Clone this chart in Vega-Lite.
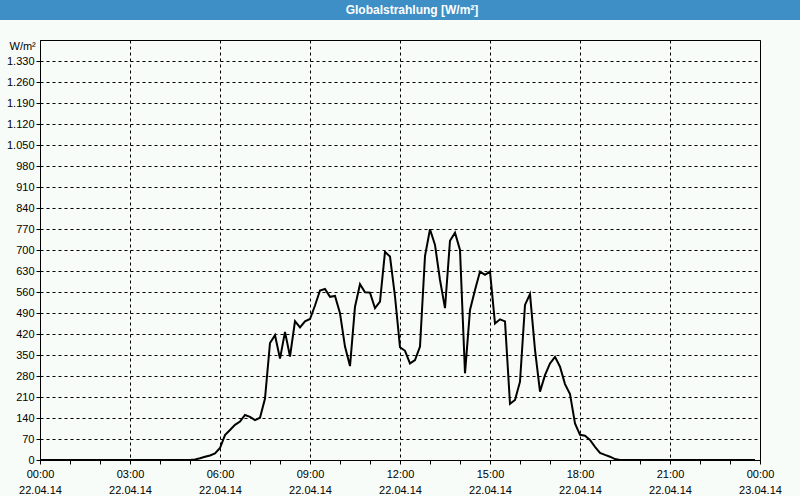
{
  "$schema": "https://vega.github.io/schema/vega-lite/v6.json",
  "background": "#f8fcf8",
  "padding": 0,
  "spacing": 19,
  "config": {"view": {"stroke": null}, "font": "Liberation Sans"},
  "datasets": {
    "radiation": [
      {"t": "2014-04-22T00:00Z", "v": 0}, {"t": "2014-04-22T00:10Z", "v": 0}, {"t": "2014-04-22T00:20Z", "v": 0}, {"t": "2014-04-22T00:30Z", "v": 0}, {"t": "2014-04-22T00:40Z", "v": 0}, {"t": "2014-04-22T00:50Z", "v": 0},
      {"t": "2014-04-22T01:00Z", "v": 0}, {"t": "2014-04-22T01:10Z", "v": 0}, {"t": "2014-04-22T01:20Z", "v": 0}, {"t": "2014-04-22T01:30Z", "v": 0}, {"t": "2014-04-22T01:40Z", "v": 0}, {"t": "2014-04-22T01:50Z", "v": 0},
      {"t": "2014-04-22T02:00Z", "v": 0}, {"t": "2014-04-22T02:10Z", "v": 0}, {"t": "2014-04-22T02:20Z", "v": 0}, {"t": "2014-04-22T02:30Z", "v": 0}, {"t": "2014-04-22T02:40Z", "v": 0}, {"t": "2014-04-22T02:50Z", "v": 0},
      {"t": "2014-04-22T03:00Z", "v": 0}, {"t": "2014-04-22T03:10Z", "v": 0}, {"t": "2014-04-22T03:20Z", "v": 0}, {"t": "2014-04-22T03:30Z", "v": 0}, {"t": "2014-04-22T03:40Z", "v": 0}, {"t": "2014-04-22T03:50Z", "v": 0},
      {"t": "2014-04-22T04:00Z", "v": 0}, {"t": "2014-04-22T04:10Z", "v": 0}, {"t": "2014-04-22T04:20Z", "v": 0}, {"t": "2014-04-22T04:30Z", "v": 0}, {"t": "2014-04-22T04:40Z", "v": 0}, {"t": "2014-04-22T04:50Z", "v": 0},
      {"t": "2014-04-22T05:00Z", "v": 0}, {"t": "2014-04-22T05:10Z", "v": 2}, {"t": "2014-04-22T05:20Z", "v": 6}, {"t": "2014-04-22T05:30Z", "v": 11}, {"t": "2014-04-22T05:40Z", "v": 15}, {"t": "2014-04-22T05:50Z", "v": 22},
      {"t": "2014-04-22T06:00Z", "v": 40}, {"t": "2014-04-22T06:10Z", "v": 83}, {"t": "2014-04-22T06:20Z", "v": 100}, {"t": "2014-04-22T06:30Z", "v": 117}, {"t": "2014-04-22T06:40Z", "v": 128}, {"t": "2014-04-22T06:50Z", "v": 150},
      {"t": "2014-04-22T07:00Z", "v": 144}, {"t": "2014-04-22T07:10Z", "v": 133}, {"t": "2014-04-22T07:20Z", "v": 141}, {"t": "2014-04-22T07:30Z", "v": 205}, {"t": "2014-04-22T07:40Z", "v": 390}, {"t": "2014-04-22T07:50Z", "v": 416},
      {"t": "2014-04-22T08:00Z", "v": 338}, {"t": "2014-04-22T08:10Z", "v": 427}, {"t": "2014-04-22T08:20Z", "v": 345}, {"t": "2014-04-22T08:30Z", "v": 463}, {"t": "2014-04-22T08:40Z", "v": 442}, {"t": "2014-04-22T08:50Z", "v": 462},
      {"t": "2014-04-22T09:00Z", "v": 470}, {"t": "2014-04-22T09:10Z", "v": 515}, {"t": "2014-04-22T09:20Z", "v": 565}, {"t": "2014-04-22T09:30Z", "v": 570}, {"t": "2014-04-22T09:40Z", "v": 544}, {"t": "2014-04-22T09:50Z", "v": 547},
      {"t": "2014-04-22T10:00Z", "v": 489}, {"t": "2014-04-22T10:10Z", "v": 378}, {"t": "2014-04-22T10:20Z", "v": 313}, {"t": "2014-04-22T10:30Z", "v": 511}, {"t": "2014-04-22T10:40Z", "v": 586}, {"t": "2014-04-22T10:50Z", "v": 559},
      {"t": "2014-04-22T11:00Z", "v": 558}, {"t": "2014-04-22T11:10Z", "v": 506}, {"t": "2014-04-22T11:20Z", "v": 528}, {"t": "2014-04-22T11:30Z", "v": 694}, {"t": "2014-04-22T11:40Z", "v": 678}, {"t": "2014-04-22T11:50Z", "v": 545},
      {"t": "2014-04-22T12:00Z", "v": 376}, {"t": "2014-04-22T12:10Z", "v": 364}, {"t": "2014-04-22T12:20Z", "v": 322}, {"t": "2014-04-22T12:30Z", "v": 333}, {"t": "2014-04-22T12:40Z", "v": 378}, {"t": "2014-04-22T12:50Z", "v": 680},
      {"t": "2014-04-22T13:00Z", "v": 769}, {"t": "2014-04-22T13:10Z", "v": 717}, {"t": "2014-04-22T13:20Z", "v": 600}, {"t": "2014-04-22T13:30Z", "v": 506}, {"t": "2014-04-22T13:40Z", "v": 731}, {"t": "2014-04-22T13:50Z", "v": 758},
      {"t": "2014-04-22T14:00Z", "v": 700}, {"t": "2014-04-22T14:10Z", "v": 289}, {"t": "2014-04-22T14:20Z", "v": 500}, {"t": "2014-04-22T14:30Z", "v": 567}, {"t": "2014-04-22T14:40Z", "v": 628}, {"t": "2014-04-22T14:50Z", "v": 617},
      {"t": "2014-04-22T15:00Z", "v": 628}, {"t": "2014-04-22T15:10Z", "v": 455}, {"t": "2014-04-22T15:20Z", "v": 469}, {"t": "2014-04-22T15:30Z", "v": 462}, {"t": "2014-04-22T15:40Z", "v": 187}, {"t": "2014-04-22T15:50Z", "v": 200},
      {"t": "2014-04-22T16:00Z", "v": 261}, {"t": "2014-04-22T16:10Z", "v": 517}, {"t": "2014-04-22T16:20Z", "v": 553}, {"t": "2014-04-22T16:30Z", "v": 367}, {"t": "2014-04-22T16:40Z", "v": 228}, {"t": "2014-04-22T16:50Z", "v": 283},
      {"t": "2014-04-22T17:00Z", "v": 322}, {"t": "2014-04-22T17:10Z", "v": 344}, {"t": "2014-04-22T17:20Z", "v": 311}, {"t": "2014-04-22T17:30Z", "v": 253}, {"t": "2014-04-22T17:40Z", "v": 220}, {"t": "2014-04-22T17:50Z", "v": 122},
      {"t": "2014-04-22T18:00Z", "v": 84}, {"t": "2014-04-22T18:10Z", "v": 81}, {"t": "2014-04-22T18:20Z", "v": 67}, {"t": "2014-04-22T18:30Z", "v": 44}, {"t": "2014-04-22T18:40Z", "v": 24}, {"t": "2014-04-22T18:50Z", "v": 17},
      {"t": "2014-04-22T19:00Z", "v": 11}, {"t": "2014-04-22T19:10Z", "v": 3}, {"t": "2014-04-22T19:20Z", "v": 0}, {"t": "2014-04-22T19:30Z", "v": 0}, {"t": "2014-04-22T19:40Z", "v": 0}, {"t": "2014-04-22T19:50Z", "v": 0},
      {"t": "2014-04-22T20:00Z", "v": 0}, {"t": "2014-04-22T20:10Z", "v": 0}, {"t": "2014-04-22T20:20Z", "v": 0}, {"t": "2014-04-22T20:30Z", "v": 0}, {"t": "2014-04-22T20:40Z", "v": 0}, {"t": "2014-04-22T20:50Z", "v": 0},
      {"t": "2014-04-22T21:00Z", "v": 0}, {"t": "2014-04-22T21:10Z", "v": 0}, {"t": "2014-04-22T21:20Z", "v": 0}, {"t": "2014-04-22T21:30Z", "v": 0}, {"t": "2014-04-22T21:40Z", "v": 0}, {"t": "2014-04-22T21:50Z", "v": 0},
      {"t": "2014-04-22T22:00Z", "v": 0}, {"t": "2014-04-22T22:10Z", "v": 0}, {"t": "2014-04-22T22:20Z", "v": 0}, {"t": "2014-04-22T22:30Z", "v": 0}, {"t": "2014-04-22T22:40Z", "v": 0}, {"t": "2014-04-22T22:50Z", "v": 0},
      {"t": "2014-04-22T23:00Z", "v": 0}, {"t": "2014-04-22T23:10Z", "v": 0}, {"t": "2014-04-22T23:20Z", "v": 0}, {"t": "2014-04-22T23:30Z", "v": 0}, {"t": "2014-04-22T23:40Z", "v": 0}, {"t": "2014-04-22T23:50Z", "v": 0}
    ]
  },
  "vconcat": [
    {
      "width": 800,
      "height": 20,
      "view": {"fill": "#3d8fc6", "stroke": null},
      "data": {"values": [{"title": "Globalstrahlung [W/m²]"}]},
      "mark": {"type": "text", "color": "white", "font": "Liberation Sans Narrow, Liberation Sans", "fontWeight": "bold", "fontSize": 12, "align": "center", "baseline": "middle", "dx": 12},
      "encoding": {"text": {"field": "title", "type": "nominal"}}
    },
    {
      "spacing": 0,
      "hconcat": [
        {
          "width": 1,
          "height": 1,
          "data": {"values": [{"a": 0}]},
          "mark": {"type": "rect", "opacity": 0, "strokeWidth": 0},
          "encoding": {}
        },
        {
          "width": 720,
          "height": 420,
          "view": {"stroke": "black", "strokeWidth": 1},
          "data": {"name": "radiation"},
          "mark": {"type": "line", "color": "black", "strokeWidth": 2},
          "encoding": {
            "x": {
              "field": "t",
              "type": "temporal",
              "scale": {"type": "utc", "domain": [{"year": 2014, "month": 4, "date": 22, "hours": 0, "utc": true}, {"year": 2014, "month": 4, "date": 23, "hours": 0, "utc": true}]},
              "axis": {
                "title": null,
                "values": [
                  {"year": 2014, "month": 4, "date": 22, "hours": 0, "utc": true}, {"year": 2014, "month": 4, "date": 22, "hours": 1, "utc": true}, {"year": 2014, "month": 4, "date": 22, "hours": 2, "utc": true},
                  {"year": 2014, "month": 4, "date": 22, "hours": 3, "utc": true}, {"year": 2014, "month": 4, "date": 22, "hours": 4, "utc": true}, {"year": 2014, "month": 4, "date": 22, "hours": 5, "utc": true},
                  {"year": 2014, "month": 4, "date": 22, "hours": 6, "utc": true}, {"year": 2014, "month": 4, "date": 22, "hours": 7, "utc": true}, {"year": 2014, "month": 4, "date": 22, "hours": 8, "utc": true},
                  {"year": 2014, "month": 4, "date": 22, "hours": 9, "utc": true}, {"year": 2014, "month": 4, "date": 22, "hours": 10, "utc": true}, {"year": 2014, "month": 4, "date": 22, "hours": 11, "utc": true},
                  {"year": 2014, "month": 4, "date": 22, "hours": 12, "utc": true}, {"year": 2014, "month": 4, "date": 22, "hours": 13, "utc": true}, {"year": 2014, "month": 4, "date": 22, "hours": 14, "utc": true},
                  {"year": 2014, "month": 4, "date": 22, "hours": 15, "utc": true}, {"year": 2014, "month": 4, "date": 22, "hours": 16, "utc": true}, {"year": 2014, "month": 4, "date": 22, "hours": 17, "utc": true},
                  {"year": 2014, "month": 4, "date": 22, "hours": 18, "utc": true}, {"year": 2014, "month": 4, "date": 22, "hours": 19, "utc": true}, {"year": 2014, "month": 4, "date": 22, "hours": 20, "utc": true},
                  {"year": 2014, "month": 4, "date": 22, "hours": 21, "utc": true}, {"year": 2014, "month": 4, "date": 22, "hours": 22, "utc": true}, {"year": 2014, "month": 4, "date": 22, "hours": 23, "utc": true},
                  {"year": 2014, "month": 4, "date": 23, "hours": 0, "utc": true}
                ],
                "labelExpr": "utchours(datum.value) % 3 === 0 ? [utcFormat(datum.value, '%H:%M'), utcFormat(datum.value, '%d.%m.%y')] : ''",
                "labelFontSize": 11,
                "labelColor": "black",
                "labelLineHeight": 16,
                "labelPadding": 4,
                "labelOverlap": false,
                "labelFlush": false,
                "labelBound": false,
                "tickSize": 4,
                "tickColor": "black",
                "domainColor": "black",
                "grid": true,
                "gridColor": "black",
                "gridDash": [3, 3],
                "gridOpacity": {"condition": {"test": "utchours(datum.value) % 3 === 0", "value": 1}, "value": 0}
              }
            },
            "y": {
              "field": "v",
              "type": "quantitative",
              "scale": {"domain": [0, 1400], "nice": false},
              "axis": {
                "values": [0, 70, 140, 210, 280, 350, 420, 490, 560, 630, 700, 770, 840, 910, 980, 1050, 1120, 1190, 1260, 1330],
                "labelExpr": "replace(format(datum.value, ','), ',', '.')",
                "labelFontSize": 11,
                "labelColor": "black",
                "labelPadding": 2,
                "tickSize": 4,
                "tickColor": "black",
                "domainColor": "black",
                "grid": true,
                "gridColor": "black",
                "gridDash": [3, 3],
                "gridOpacity": 1,
                "minExtent": 38,
                "title": "W/m²",
                "titlePadding": 0,
                "titleAngle": 0,
                "titleAlign": "left",
                "titleBaseline": "middle",
                "titleX": -31,
                "titleY": 6,
                "titleFontSize": 11,
                "titleFontWeight": "normal",
                "titleColor": "black"
              }
            }
          }
        }
      ]
    }
  ]
}
